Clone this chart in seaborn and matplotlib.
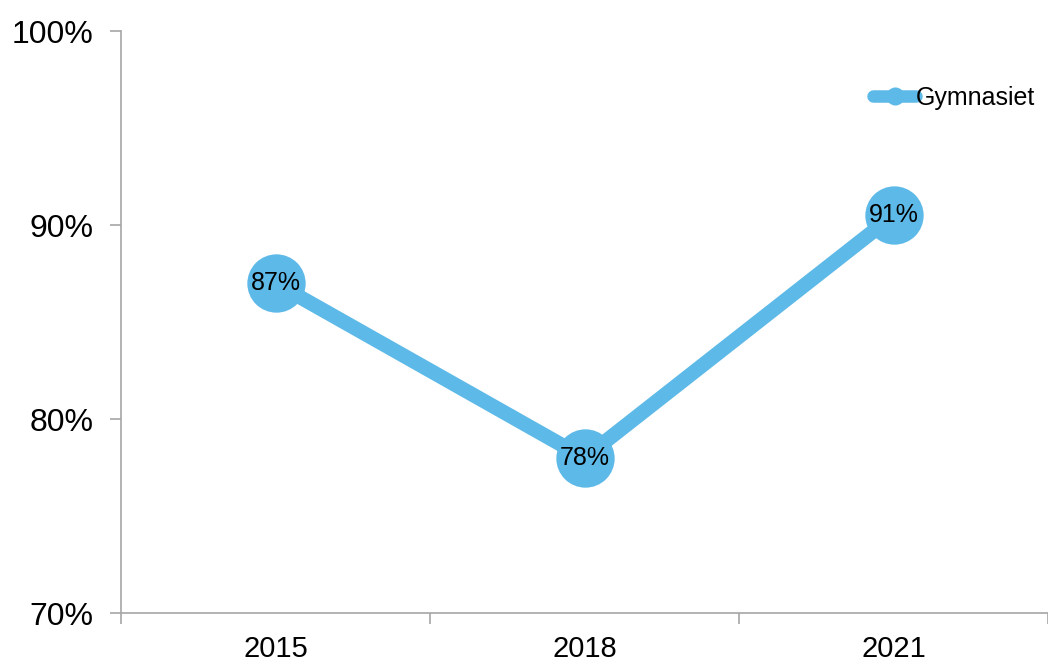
import pandas as pd
import seaborn as sns
import matplotlib.pyplot as plt
from matplotlib.ticker import FuncFormatter, FixedLocator

# data
years = ['2015', '2018', '2021']
values = [0.87, 0.78, 0.905]
series_name = 'Gymnasiet'

df = pd.DataFrame({'year': years, 'value': values})

sns.set_style('white')
plt.rcParams['font.family'] = ['Liberation Sans', 'DejaVu Sans']


def pct(v):
    # round half up, like the spreadsheet labels
    return '{:d}%'.format(int(v * 100 + 0.5 + 1e-9))


line_color = '#5DB9E7'
axis_color = '#A6A6A6'

fig = plt.figure(figsize=(10.48, 6.62), dpi=100)
ax = fig.add_axes([0.1155, 0.074, 0.8845, 0.879])

sns.lineplot(data=df, x='year', y='value', ax=ax, color=line_color,
             linewidth=10.5, marker='o', markersize=42, markeredgewidth=0,
             label=series_name, sort=False)

for i, v in enumerate(values):
    ax.text(i, v, pct(v), ha='center', va='center',
            fontsize=18, color='black')

ax.set_ylim(0.70, 1.00)
ax.set_xlim(-0.5, 2.5)
ax.set_yticks([0.70, 0.80, 0.90, 1.00])
ax.yaxis.set_major_formatter(FuncFormatter(lambda y, _: pct(y)))
ax.xaxis.set_minor_locator(FixedLocator([-0.5, 0.5, 1.5, 2.5]))

ax.set_xlabel('')
ax.set_ylabel('')
sns.despine(ax=ax)
for s in ['left', 'bottom']:
    ax.spines[s].set_color(axis_color)
    ax.spines[s].set_linewidth(1.2)

ax.tick_params(axis='y', which='major', left=True, length=8, width=1.2,
               color=axis_color, labelsize=23, labelcolor='black', pad=12)
ax.tick_params(axis='x', which='major', bottom=False, length=0, labelsize=21,
               labelcolor='black', pad=16)
ax.tick_params(axis='x', which='minor', bottom=True, length=8, width=1.2,
               color=axis_color)

leg = ax.legend(loc='center right', bbox_to_anchor=(0.997, 0.885), frameon=False,
                fontsize=18, handlelength=1.7, handletextpad=0.0,
                borderaxespad=0.0)
for t in leg.get_texts():
    t.set_color('black')
for h in leg.legend_handles:
    h.set_markersize(13)
    h.set_linewidth(9)

fig.savefig('out.png', dpi=100)
